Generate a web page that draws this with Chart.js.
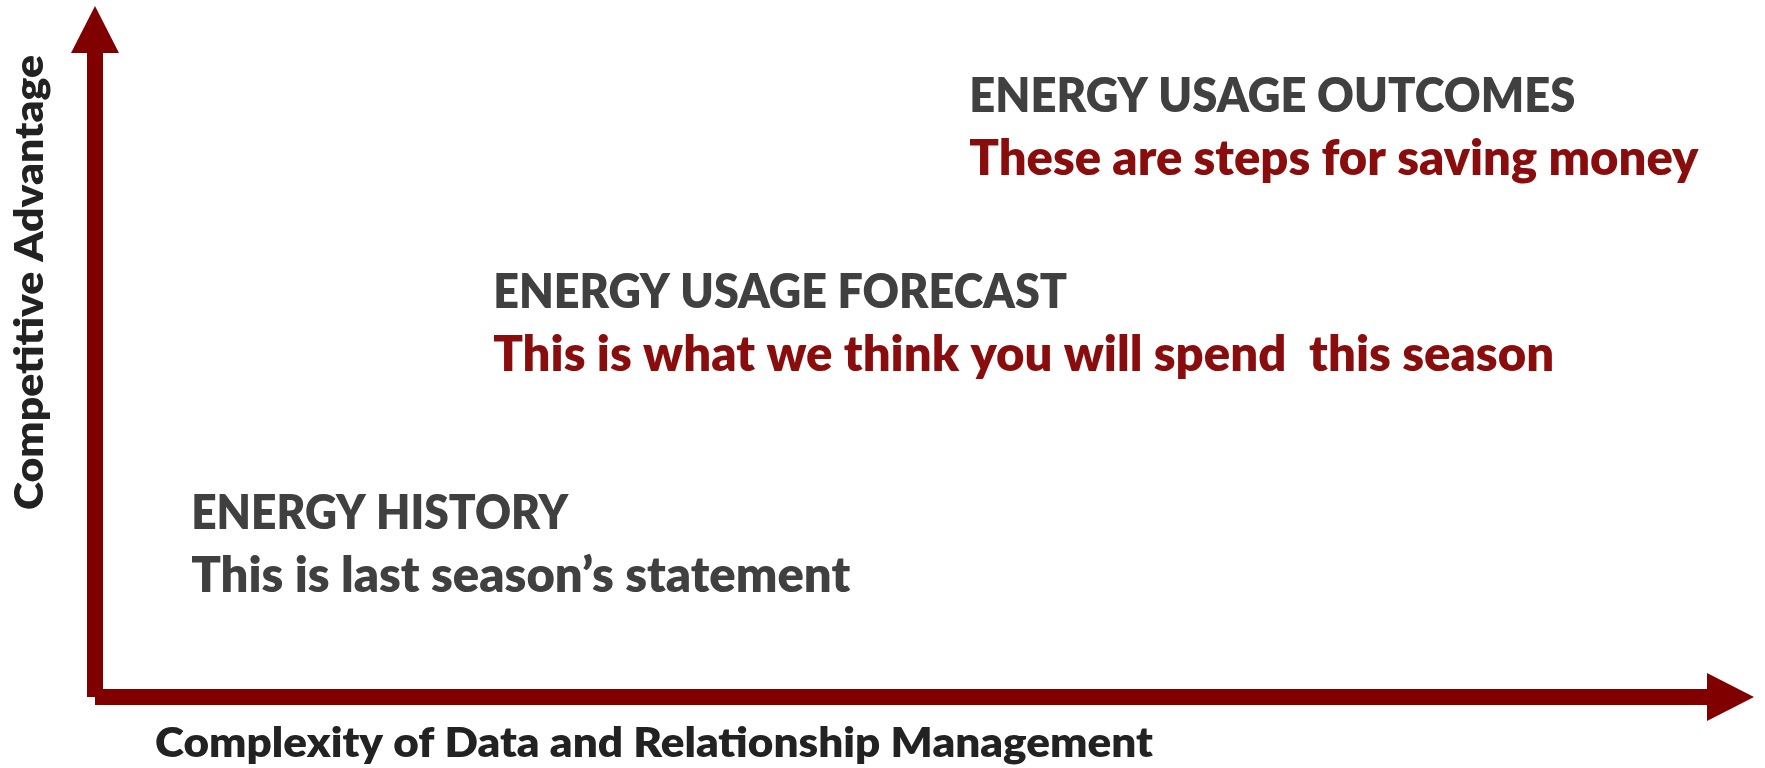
<!DOCTYPE html>
<html><head><meta charset="utf-8">
<script src="https://cdn.jsdelivr.net/npm/chart.js@4.4.0/dist/chart.umd.min.js"></script>
<style>html,body{margin:0;padding:0;background:#fff;overflow:hidden}#wrap{width:1765px;height:768px}</style>
</head><body><div id="wrap"><canvas id="c" width="1765" height="768"></canvas></div>
<script>
// ---- data ----
const stageTitles = ['ENERGY HISTORY', 'ENERGY USAGE FORECAST', 'ENERGY USAGE OUTCOMES'];
const stageDescriptions = ['This is last season\u2019s statement', 'This is what we think you will spend  this season', 'These are steps for saving money'];
const complexityValues = [5.8, 24.0, 52.7];   // x: complexity (0-100)
const advantageValues = [24.3, 56.3, 84.7];   // y: competitive advantage (0-100)
const xAxisTitle = 'Complexity of Data and Relationship Management';
const yAxisTitle = 'Competitive Advantage';

// ---- styles ----
const FONT = 'Lato, "Open Sans", sans-serif';
const WEIGHT = '800';
const CAP = 0.7165;
const arrowColor = '#800000';
const titleColor = '#404040';
const descColors = ['#404040', '#8a0d0d', '#8a0d0d'];
const titleWidths = [377, 574, 606];
const descWidths = [659, 1061, 729];
const titleCap = 34.5, descCap = 35, lineGap = 63;

function drawFitted(ctx, text, x, y, capH, width, color, rot) {
  ctx.save();
  ctx.font = WEIGHT + ' ' + (capH / CAP).toFixed(2) + 'px ' + FONT;
  ctx.fillStyle = color;
  ctx.textAlign = 'left';
  ctx.textBaseline = 'alphabetic';
  const w = ctx.measureText(text).width;
  ctx.translate(x, y);
  if (rot) ctx.rotate(rot);
  ctx.scale(width / w, 1);
  ctx.fillText(text, 0, 0);
  ctx.restore();
}

const diagramPlugin = {
  id: 'diagram',
  afterDraw(chart) {
    const ctx = chart.ctx;
    const xs = chart.scales.x, ys = chart.scales.y;
    const x0 = xs.getPixelForValue(0), y0 = ys.getPixelForValue(0);
    const xTip = xs.getPixelForValue(100), yTip = ys.getPixelForValue(100);
    const head = 47, half = 24, shaft = 16;
    ctx.save();
    ctx.fillStyle = arrowColor;
    // vertical axis arrow
    ctx.fillRect(x0 - shaft / 2, yTip + head, shaft, y0 - (yTip + head));
    ctx.beginPath();
    ctx.moveTo(x0 - half, yTip + head); ctx.lineTo(x0 + half, yTip + head); ctx.lineTo(x0, yTip); ctx.closePath(); ctx.fill();
    // horizontal axis arrow
    ctx.fillRect(x0, y0 - shaft / 2, xTip - head - x0, shaft);
    ctx.beginPath();
    ctx.moveTo(xTip - head, y0 - half); ctx.lineTo(xTip - head, y0 + half); ctx.lineTo(xTip, y0); ctx.closePath(); ctx.fill();
    ctx.restore();

    // stage texts
    const meta = chart.getDatasetMeta(0);
    meta.data.forEach((el, i) => {
      drawFitted(ctx, stageTitles[i], el.x, el.y, titleCap, titleWidths[i], titleColor);
      drawFitted(ctx, stageDescriptions[i], el.x, el.y + lineGap, descCap, descWidths[i], descColors[i]);
    });

    // axis titles
    drawFitted(ctx, xAxisTitle, x0 + 60, y0 + 60, 29.5, 998, '#222222');
    drawFitted(ctx, yAxisTitle, x0 - 52, y0 - 187, 28.5, 455, '#222222', -Math.PI / 2);
  }
};

new Chart(document.getElementById('c'), {
  type: 'scatter',
  data: {
    datasets: [{
      data: complexityValues.map((x, i) => ({ x: x, y: advantageValues[i] })),
      pointRadius: 0,
      pointHoverRadius: 0
    }]
  },
  options: {
    responsive: false,
    animation: false,
    events: [],
    layout: { padding: { left: 95, right: 11, top: 6, bottom: 71 } },
    scales: {
      x: { type: 'linear', min: 0, max: 100, display: false },
      y: { type: 'linear', min: 0, max: 100, display: false }
    },
    plugins: { legend: { display: false }, tooltip: { enabled: false }, title: { display: false } }
  },
  plugins: [diagramPlugin]
});
</script>
</body></html>
